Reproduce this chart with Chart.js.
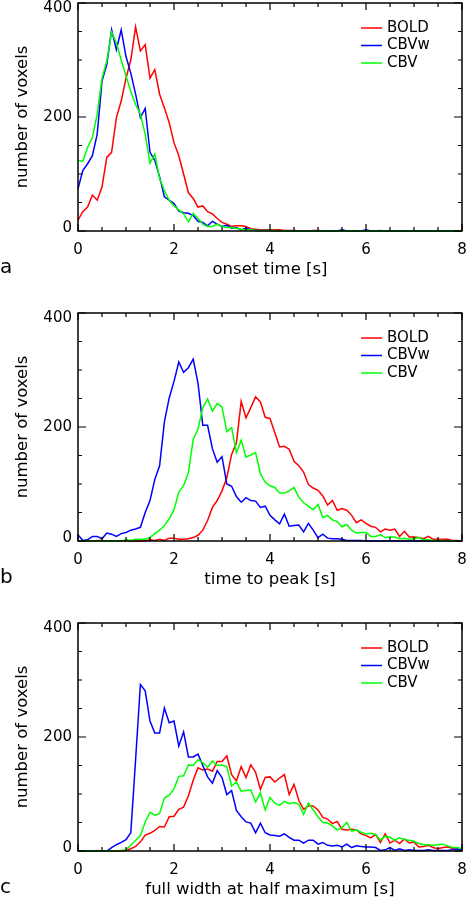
<!DOCTYPE html>
<html><head><meta charset="utf-8">
<script src="https://cdn.jsdelivr.net/npm/chart.js@4/dist/chart.umd.min.js"></script>
<style>
html,body{margin:0;padding:0;background:#fff;}
body{width:466px;height:900px;overflow:hidden;position:relative;}
.p{position:absolute;left:0;width:480px;height:293px;}
canvas{display:block;}
</style></head><body>
<div class="p" style="top:-12px"><canvas id="ca" width="480" height="293" style="width:480px;height:293px"></canvas></div>
<div class="p" style="top:298px"><canvas id="cb" width="480" height="293" style="width:480px;height:293px"></canvas></div>
<div class="p" style="top:608px"><canvas id="cc" width="480" height="293" style="width:480px;height:293px"></canvas></div>
<script>
// time bins [s]
const timeBins = [0,0.1,0.2,0.3,0.4,0.5,0.6,0.7,0.8,0.9,
1,1.1,1.2,1.3,1.4,1.5,1.6,1.7,1.8,1.9,
2,2.1,2.2,2.3,2.4,2.5,2.6,2.7,2.8,2.9,
3,3.1,3.2,3.3,3.4,3.5,3.6,3.7,3.8,3.9,
4,4.1,4.2,4.3,4.4,4.5,4.6,4.7,4.8,4.9,
5,5.1,5.2,5.3,5.4,5.5,5.6,5.7,5.8,5.9,
6,6.1,6.2,6.3,6.4,6.5,6.6,6.7,6.8,6.9,
7,7.1,7.2,7.3,7.4,7.5,7.6,7.7,7.8,7.9,
8];
const seriesNames = ['BOLD','CBVw','CBV'];
const xTicks = [0,2,4,6,8];
const yTicks = [0,200,400];

// (a) onset time
const onsetBOLD = [19,34,42,63,54,77,129,138,199,228,
268,300,358,316,327,268,283,240,216,190,
155,132,100,67,57,42,44,34,30,22,
15,12,8,9,9,8,4,3,2,2,
2,2,2,1,1,1,0,0,0,1,
1,0,0,0,0,0,0,0,0,0,
0,0,0,1,0,0,0,0,0,0,
0,0,0,0,0,0,0,0,0,0,
0];
const onsetCBVw = [74,106,118,132,170,263,292,353,318,353,
306,277,240,199,215,138,124,95,60,54,
48,35,32,31,27,17,15,9,17,12,
8,10,5,6,2,5,2,1,1,1,
1,0,0,0,0,0,0,0,0,0,
0,0,0,0,0,2,0,0,0,0,
2,0,0,0,0,0,0,0,0,0,
0,0,0,0,0,0,0,0,0,0,
0];
const onsetCBV = [124,122,147,164,205,268,298,349,330,300,
272,245,222,205,170,119,135,92,71,54,
44,37,30,16,31,22,12,8,8,12,
8,6,6,5,3,2,2,1,1,1,
1,1,0,0,0,0,0,0,0,0,
0,0,0,0,0,0,0,0,0,0,
0,0,0,0,0,0,0,0,0,0,
0,0,0,0,0,0,0,0,0,0,
0];

// (b) time to peak
const peakBOLD = [0,0,0,0,1,1,0,0,0,0,
1,0,0,0,0,2,1,3,1,5,
5,3,3,4,6,10,19,36,59,71,
88,111,152,172,245,216,234,253,244,217,
215,190,165,166,161,140,132,121,99,93,
89,79,63,71,54,57,54,45,32,37,
31,26,24,16,21,19,21,8,17,7,
7,6,4,8,3,3,3,3,1,1,
0];
const peakCBVw = [11,1,2,8,8,4,14,12,8,13,
15,19,21,24,50,71,108,132,209,251,
280,314,296,304,319,277,203,203,162,138,
148,100,96,78,68,76,71,70,59,61,
45,37,30,47,26,27,28,16,31,19,
6,12,5,4,4,3,1,1,1,1,
0,0,0,0,0,0,0,0,0,0,
0,0,0,0,0,0,0,0,0,0,
0];
const peakCBV = [1,0,0,0,0,1,0,0,0,0,
2,1,3,3,3,6,13,19,27,39,
55,86,97,120,178,196,234,249,228,241,
235,192,199,155,177,147,151,155,118,103,
97,94,84,84,88,94,77,67,61,55,
64,41,45,37,34,25,29,19,14,15,
15,8,8,11,6,7,7,4,5,3,
4,6,2,2,1,1,1,0,0,0,
0];

// (c) full width at half maximum
const fwhmBOLD = [0,0,0,0,1,0,0,0,0,0,
1,4,8,16,28,31,36,43,42,60,
61,73,77,97,124,146,142,144,140,157,
157,167,134,123,148,129,151,138,108,129,
130,121,128,134,99,117,89,73,79,79,
72,59,56,48,52,38,37,38,37,30,
27,23,29,15,30,14,19,13,21,14,
16,7,8,10,6,4,6,7,5,2,
1];
const fwhmCBVw = [0,0,0,0,0,0,0,6,11,15,
20,32,160,292,281,228,207,207,251,225,
228,184,209,165,165,170,150,130,119,141,
129,99,106,71,60,51,49,32,49,32,
28,27,26,30,24,19,19,14,19,19,
12,15,10,9,10,7,12,6,9,8,
7,7,6,1,2,6,1,4,1,2,
1,1,1,2,1,1,1,1,2,4,
1];
const fwhmCBV = [0,0,0,0,0,0,0,0,0,1,
2,10,19,27,51,68,63,66,93,98,
109,131,132,151,150,160,155,147,158,150,
151,148,114,121,105,106,107,86,102,72,
94,84,80,87,83,85,82,64,84,72,
60,50,49,44,37,41,50,35,37,33,
30,31,29,19,26,24,19,23,20,19,
17,13,11,11,10,11,12,9,6,6,
4];

const colors = ['#ff0000','#0000ff','#00ff00'];
Chart.defaults.font.family = '"DejaVu Sans", sans-serif';
Chart.defaults.color = '#000';

function pts(vals){ return timeBins.map((t,i)=>({x:t, y:vals[i]})); }

const framePlugin = {
  id:'frame',
  beforeDraw(chart){
    // nudge the end labels of the y axis inward, as in the original
    const y = chart.scales.y;
    const items = y.getLabelItems();
    items.forEach(it=>{
      if (it._nudged) return;
      if (it.label === String(y.max)) it.options.translation[1] += 5;
      else if (it.label === String(y.min)) it.options.translation[1] -= 3;
      it._nudged = true;
    });
  },
  afterDraw(chart){
    const {ctx, chartArea:a, scales:{x,y}} = chart;
    const o = chart.options.plugins.frame;
    ctx.save();
    ctx.strokeStyle = '#000';
    ctx.lineWidth = 1.5;
    ctx.strokeRect(a.left, a.top, a.right-a.left, a.bottom-a.top);
    ctx.lineWidth = 1.2;
    ctx.beginPath();
    for (let v = x.min; v <= x.max + 1e-9; v += 0.5) {
      const px = x.getPixelForValue(v);
      const major = xTicks.includes(Math.round(v*10)/10);
      const L = major ? 7 : 4;
      ctx.moveTo(px, a.bottom); ctx.lineTo(px, a.bottom - L);
      ctx.moveTo(px, a.top); ctx.lineTo(px, a.top + L);
    }
    for (let v = y.min; v <= y.max + 1e-9; v += 50) {
      const py = y.getPixelForValue(v);
      const major = yTicks.includes(v);
      const L = major ? 8 : 4;
      ctx.moveTo(a.left, py); ctx.lineTo(a.left + L, py);
      ctx.moveTo(a.right, py); ctx.lineTo(a.right - L, py);
    }
    ctx.stroke();
    // legend
    ctx.font = '15px "DejaVu Sans"';
    ctx.textBaseline = 'middle';
    ctx.textAlign = 'left';
    chart.data.datasets.forEach((ds,i)=>{
      const yy = a.top + 25 + i*17.5;
      ctx.strokeStyle = ds.borderColor; ctx.lineWidth = 1.5;
      ctx.beginPath(); ctx.moveTo(a.right-101, yy); ctx.lineTo(a.right-80, yy); ctx.stroke();
      ctx.fillStyle = '#000';
      ctx.fillText(ds.label, a.right-75, yy);
    });
    // panel letter
    ctx.font = '20px "DejaVu Sans"';
    ctx.textBaseline = 'alphabetic';
    ctx.fillText(o.letter, 0, a.bottom + 42);
    ctx.restore();
  }
};

function makeChart(id, letter, xTitle, b, w, g){
  const vals = [b, w, g];
  new Chart(document.getElementById(id), {
    type:'line',
    data:{ datasets: seriesNames.map((n,i)=>({
      label:n, data:pts(vals[i]), borderColor:colors[i], backgroundColor:colors[i],
      borderWidth:1.5, pointRadius:0, tension:0, order:2-i, clip:false
    }))},
    options:{
      responsive:false, animation:false, devicePixelRatio:1,
      layout:{padding:{top:13, right:18, left:0, bottom:0}},
      plugins:{legend:{display:false}, tooltip:{enabled:false}, frame:{letter}},
      scales:{
        x:{ type:'linear', min:0, max:8,
            grid:{display:false, drawTicks:false}, border:{display:false},
            ticks:{stepSize:2, padding:10, font:{size:15}, maxRotation:0,
                   callback:v=>xTicks.includes(v)?String(v):''},
            title:{display:true, text:xTitle, font:{size:16.5}, padding:{top:0,bottom:1}},
            afterFit(s){ s.height = 50; } },
        y:{ type:'linear', min:0, max:400,
            grid:{display:false, drawTicks:false}, border:{display:false},
            ticks:{stepSize:200, padding:6, font:{size:15},
                   callback:v=>yTicks.includes(v)?String(v):''},
            title:{display:true, text:'number of voxels', font:{size:16.5}, padding:{top:13,bottom:0}},
            afterFit(s){ s.width = 78; } }
      }
    },
    plugins:[framePlugin]
  });
}

makeChart('ca','a','onset time [s]', onsetBOLD, onsetCBVw, onsetCBV);
makeChart('cb','b','time to peak [s]', peakBOLD, peakCBVw, peakCBV);
makeChart('cc','c','full width at half maximum [s]', fwhmBOLD, fwhmCBVw, fwhmCBV);
</script>
</body></html>
